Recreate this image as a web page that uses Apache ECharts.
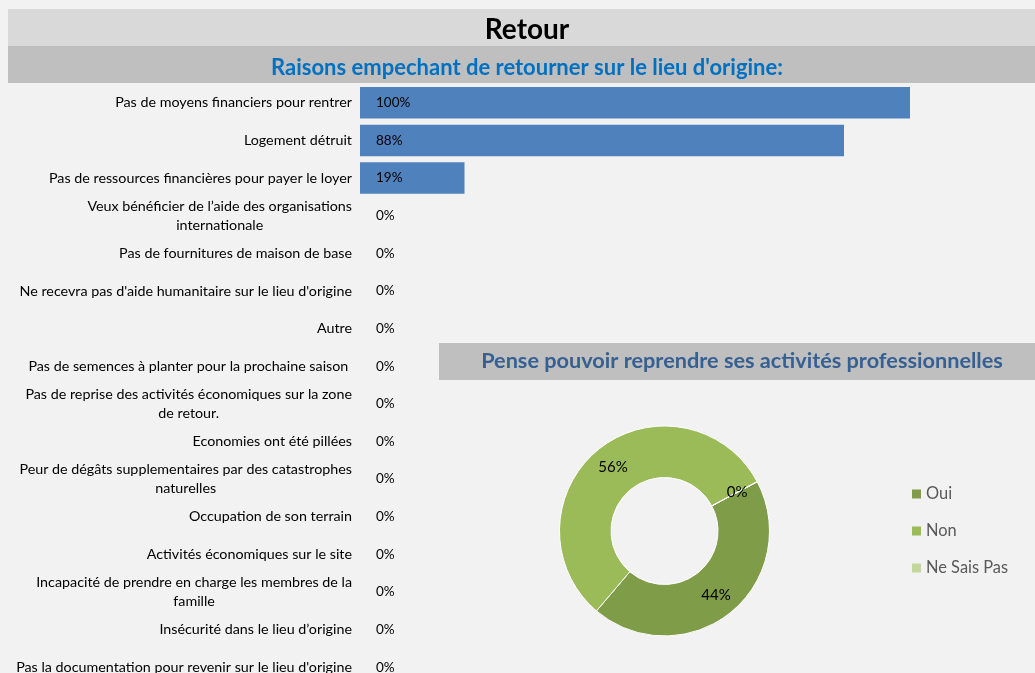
<!DOCTYPE html>
<html><head><meta charset="utf-8">
<script src="https://cdn.jsdelivr.net/npm/echarts@6/dist/echarts.min.js"></script>
<style>html,body{margin:0;padding:0;background:#f2f2f2;overflow:hidden}#c{width:1035px;height:700px}</style>
</head><body><div id="c"></div>
<script>
const categories = [
  "Pas de moyens financiers pour rentrer",
  "Logement détruit",
  "Pas de ressources financières pour payer le loyer",
  "Veux bénéficier de l’aide des organisations\ninternationale",
  "Pas de fournitures de maison de base",
  "Ne recevra pas d'aide humanitaire sur le lieu d'origine",
  "Autre",
  "Pas de semences à planter pour la prochaine saison ",
  "Pas de reprise des activités économiques sur la zone\nde retour.",
  "Economies ont été pillées",
  "Peur de dégâts supplementaires par des catastrophes\nnaturelles",
  "Occupation de son terrain",
  "Activités économiques sur le site",
  "Incapacité de prendre en charge les membres de la\nfamille",
  "Insécurité dans le lieu d’origine",
  "Pas la documentation pour revenir sur le lieu d'origine"
];
const barValues = [100, 88, 19, 0, 0, 0, 0, 0, 0, 0, 0, 0, 0, 0, 0, 0];
const pieNames = ["Oui", "Non", "Ne Sais Pas"];
const pieValues = [44, 56, 0];
const pieColors = ["#7f9c48", "#9bbb59", "#c3d69b"];
const mainTitle = "Retour";
const barTitle = "Raisons empechant de retourner sur le lieu d'origine:";
const pieTitle = "Pense pouvoir reprendre ses activités professionnelles";

const FONT = "Lato";
const chart = echarts.init(document.getElementById('c'));
chart.setOption({
  backgroundColor: '#f2f2f2',
  animation: false,
  graphic: [
    { type: 'rect', left: 8, top: 9, shape: { width: 1027, height: 37 }, style: { fill: '#d9d9d9' }, z: -1 },
    { type: 'rect', left: 8, top: 46, shape: { width: 1027, height: 37 }, style: { fill: '#bfbfbf' }, z: -1 },
    { type: 'rect', left: 439, top: 343, shape: { width: 596, height: 37 }, style: { fill: '#bfbfbf' }, z: -1 }
  ],
  title: [
    { text: mainTitle, left: 527, top: 16, padding: 0, textAlign: 'center',
      textStyle: { fontFamily: FONT, fontSize: 28, fontWeight: 'bold', color: '#000' } },
    { text: barTitle, left: 527, top: 57, padding: 0, textAlign: 'center',
      textStyle: { fontFamily: FONT, fontSize: 22, fontWeight: 'bold', color: '#0070c0' } },
    { text: pieTitle, left: 742, top: 350, padding: 0, textAlign: 'center',
      textStyle: { fontFamily: FONT, fontSize: 21.7, fontWeight: 'bold', color: '#376092' } }
  ],
  grid: { left: 360, top: 84, width: 550, height: 602, containLabel: false },
  xAxis: { type: 'value', min: 0, max: 100, show: false },
  yAxis: {
    type: 'category', data: categories, inverse: true,
    axisLine: { show: false }, axisTick: { show: false }, splitLine: { show: false },
    axisLabel: {
      margin: 8, color: '#000', fontFamily: FONT, fontSize: 14.3,
      formatter: v => v.split('\n').map(l => '{c|' + l + '}').join('\n'),
      rich: { c: { align: 'center', fontFamily: FONT, fontSize: 14.3, color: '#000', lineHeight: 19 } }
    }
  },
  legend: {
    orient: 'vertical', left: 912, top: 486, padding: 0, itemWidth: 9, itemHeight: 9, itemGap: 21,
    icon: 'rect', data: pieNames,
    itemStyle: { borderWidth: 0 },
    textStyle: { fontFamily: FONT, fontSize: 16.4, color: '#595959' }
  },
  series: [
    {
      type: 'bar', data: barValues, barCategoryGap: '16.5%',
      itemStyle: { color: '#4f81bd' },
      label: { show: true, position: 'insideLeft', distance: 16, formatter: '{c}%',
        fontFamily: FONT, fontSize: 13.5, color: '#000' }
    },
    {
      type: 'pie', center: [664.5, 531], radius: [53.5, 105], startAngle: 28, clockwise: true,
      data: pieNames.map((n, i) => ({ name: n, value: pieValues[i], itemStyle: { color: pieColors[i] } })),
      itemStyle: { borderColor: '#ffffff', borderWidth: 1 },
      label: { show: true, position: 'inside', formatter: '{c}%', fontFamily: FONT, fontSize: 15, color: '#000' },
      labelLine: { show: false },
      emphasis: { disabled: true }
    }
  ]
});
</script></body></html>
